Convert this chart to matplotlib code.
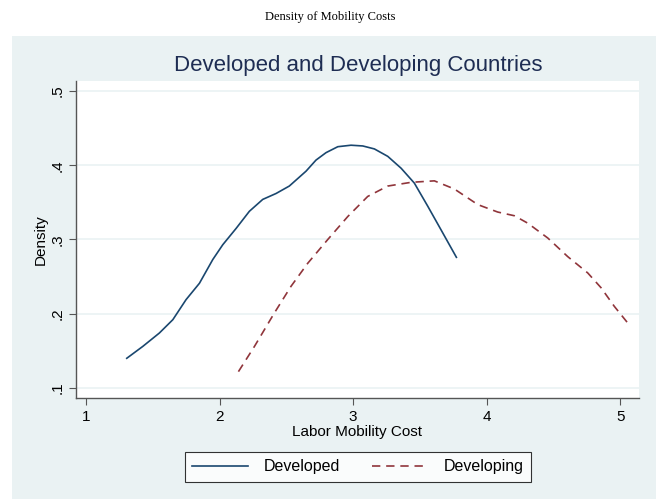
import matplotlib
matplotlib.use("Agg")
import matplotlib.pyplot as plt
from matplotlib.patches import Rectangle
from matplotlib.lines import Line2D

dev_x = [1.305, 1.425, 1.549, 1.650, 1.749, 1.849, 1.949, 2.024, 2.124, 2.223,
         2.323, 2.423, 2.522, 2.647, 2.722, 2.797, 2.885, 2.984, 3.072, 3.159,
         3.259, 3.359, 3.458, 3.558, 3.658, 3.773]
dev_y = [0.140, 0.156, 0.174, 0.192, 0.219, 0.241, 0.273, 0.293, 0.315, 0.338,
         0.354, 0.362, 0.372, 0.392, 0.407, 0.417, 0.425, 0.427, 0.426, 0.422,
         0.412, 0.396, 0.376, 0.345, 0.313, 0.276]

dvg_x = [2.141, 2.261, 2.410, 2.535, 2.660, 2.810, 2.960, 3.109, 3.259, 3.433,
         3.608, 3.758, 3.933, 4.082, 4.207, 4.307, 4.457, 4.606, 4.756, 4.856,
         4.955, 5.067]
dvg_y = [0.122, 0.156, 0.201, 0.237, 0.268, 0.300, 0.331, 0.358, 0.372, 0.377,
         0.379, 0.368, 0.347, 0.337, 0.332, 0.322, 0.302, 0.277, 0.255, 0.235,
         0.210, 0.185]

x_ticks = [1, 2, 3, 4, 5]
y_ticks = [0.1, 0.2, 0.3, 0.4, 0.5]
y_labels = [".1", ".2", ".3", ".4", ".5"]

W, H = 660, 499
fig = plt.figure(figsize=(W / 100, H / 100), dpi=100)
fig.patch.set_facecolor("white")
bg = "#EAF2F3"
fig.patches.append(Rectangle((12 / W, 0), (656 - 12) / W, (499 - 36) / H,
                             transform=fig.transFigure, facecolor=bg,
                             edgecolor="none", zorder=-5))

fig.text(330 / W, 1 - 17 / H, "Density of Mobility Costs", ha="center", va="center",
         fontsize=9, family="Liberation Serif", color="black")

ax = fig.add_axes([76 / W, 1 - 398 / H, (639 - 76) / W, (398 - 81) / H])
ax.set_zorder(2)
ax.set_facecolor("white")
ax.plot(dev_x, dev_y, color="#1A476F", lw=1.2, label="Developed")
ax.plot(dvg_x, dvg_y, color="#90353B", lw=1.2, ls=(0, (5, 3.5)), label="Developing")

ax.set_xlim(0.925, 5.14)
ax.set_ylim(0.0865, 0.5135)
ax.set_xticks(x_ticks)
ax.set_xticklabels([str(t) for t in x_ticks])
ax.set_yticks(y_ticks)
ax.set_yticklabels(y_labels, rotation=90, va="center")
for y in y_ticks:
    ax.axhline(y, color="#EAF2F3", lw=1.2, zorder=0)
for s in ["top", "right"]:
    ax.spines[s].set_visible(False)
for s in ["left", "bottom"]:
    ax.spines[s].set_color("#555555")
    ax.spines[s].set_linewidth(1.0)
ax.tick_params(axis="both", length=5, width=0.8, color="#555555",
               labelsize=11, labelcolor="black")
for lab in ax.get_xticklabels() + ax.get_yticklabels():
    lab.set_family("Liberation Sans")
ax.set_xlabel("Labor Mobility Cost", fontsize=11, family="Liberation Sans", labelpad=1)
ax.set_ylabel("Density", fontsize=11, family="Liberation Sans", labelpad=2)

fig.text(358 / W, 1 - 66 / H, "Developed and Developing Countries", ha="center",
         va="center", fontsize=16, family="Liberation Sans", color="#1E2D53")

leg = fig.legend(handles=[Line2D([0], [0], color="#1A476F", lw=1.2),
                          Line2D([0], [0], color="#90353B", lw=1.2, ls=(0, (5, 3.5)))],
                 labels=["Developed", "Developing"], loc="center",
                 bbox_to_anchor=(358 / W, 1 - 467 / H), ncol=2, frameon=True,
                 fancybox=False, edgecolor="black", facecolor="white",
                 prop={"family": "Liberation Sans", "size": 11.5},
                 handlelength=3.5, handletextpad=1.0, columnspacing=2.0, borderpad=0.45)
leg.get_frame().set_linewidth(0.8)

fig.savefig("out.png", dpi=100, facecolor="white")
